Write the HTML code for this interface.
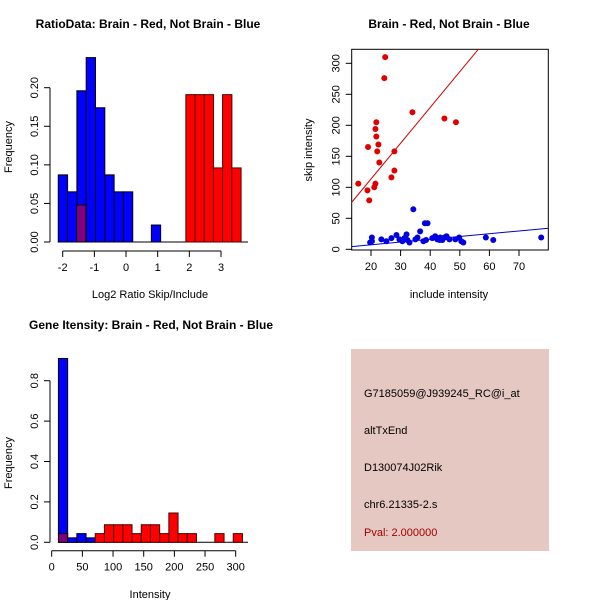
<!DOCTYPE html>
<html><head><meta charset="utf-8"><style>
html,body{margin:0;padding:0;background:#fff}
svg{display:block}
text{font-family:"Liberation Sans",sans-serif;font-size:11px;fill:#000}
.t{font-weight:bold;font-size:12px}
</style></head><body>
<svg id="c" width="600" height="600" xmlns="http://www.w3.org/2000/svg">
<text class="t" x="148" y="28" text-anchor="middle">RatioData: Brain - Red, Not Brain - Blue</text>
<text x="150" y="298" text-anchor="middle">Log2 Ratio Skip/Include</text>
<text x="12" y="147" text-anchor="middle" transform="rotate(-90 12 147)">Frequency</text>
<text class="t" x="449" y="28" text-anchor="middle">Brain - Red, Not Brain - Blue</text>
<text x="449" y="298" text-anchor="middle">include intensity</text>
<text x="312" y="150" text-anchor="middle" transform="rotate(-90 312 150)">skip intensity</text>
<text class="t" x="151" y="329" text-anchor="middle">Gene Itensity: Brain - Red, Not Brain - Blue</text>
<text x="150" y="598" text-anchor="middle">Intensity</text>
<text x="12" y="463" text-anchor="middle" transform="rotate(-90 12 463)">Frequency</text>
<g>
<rect x="351" y="349" width="198" height="202" fill="#e6c8c2"/>
<text x="364" y="397">G7185059@J939245_RC@i_at</text>
<text x="364" y="434">altTxEnd</text>
<text x="364" y="471">D130074J02Rik</text>
<text x="364" y="508">chr6.21335-2.s</text>
<text x="364" y="536" style="fill:#a00000">Pval: 2.000000</text>
</g>
</svg>
<script>
// ---- Ratio histogram data ----
const ratioBinWidth = 0.294;
const ratioBlueStart = -2.14;
const ratioBlue = [0.087,0.065,0.196,0.239,0.174,0.087,0.065,0.065,0,0,0.022];
const ratioRedStarts = [-1.56,1.89,2.18,2.47,2.76,3.05,3.34];
const ratioRed = [0.048,0.191,0.191,0.191,0.096,0.191,0.096];
const ratioXTicks = [-2,-1,0,1,2,3];
const ratioYTicks = [0,0.05,0.10,0.15,0.20];
const ratioYLabels = ["0.00","0.05","0.10","0.15","0.20"];
// ---- Scatter data ----
const redX = [15.7,24.8,24.5,34,44.8,48.7,21.8,21.5,21.8,19,22.5,22.1,27.9,22.8,26.9,27.9,18.8,19.4,21.5,21.1];
const redY = [106,310,276,221,211,205,205,194,182,165,169,158,158,140,116,127,95,79,106,100];
const blueX = [34.3,38.2,39.1,36.6,58.8,61.3,77.5,19.7,20.3,20.3,23.5,25.2,26.9,28.6,29.6,30.6,31.3,32,32.3,33,35,35.7,37.7,38.6,40.7,41.7,42.4,43.4,44.1,44.8,45.5,48.5,49.8,50.5,51.2,43.2,46.5];
const blueY = [64.5,42,42,29,19,15,19,11,13,19,16,13,18,23,16,13,18,24,15,11,16,19,13,15,18,21,16,19,15,19,21,16,19,13,11,15,16];
const redFit = [-2, 5.77];
const blueFit = [-1.7, 0.446];
const scatterXTicks = [20,30,40,50,60,70];
const scatterYTicks = [0,50,100,150,200,250,300];
// ---- Intensity histogram data ----
const intBinWidth = 15;
const intStart = 11;
const intBlue = [0.91,0.022,0.043,0.022];
const intRed = [0.043,0,0,0,0.043,0.087,0.087,0.087,0.043,0.087,0.087,0.043,0.145,0.043,0.043,0,0,0.043,0,0.043];
const intXTicks = [0,50,100,150,200,250,300];
const intYTicks = [0,0.2,0.4,0.6,0.8];
const intYLabels = ["0.0","0.2","0.4","0.6","0.8"];

const svg = document.getElementById('c');
const NS = 'http://www.w3.org/2000/svg';
function mk(tag, attrs, parent){
  const e = document.createElementNS(NS, tag);
  for (const k in attrs) e.setAttribute(k, attrs[k]);
  (parent||svg).appendChild(e);
  return e;
}
function lin(d0,d1,r0,r1){return v => r0 + (v-d0)*(r1-r0)/(d1-d0);}

function axes(g, xs, ys, xTicks, xLabels, yTicks, yLabels, xAxisY, yAxisX, prefix){
  let e;
  e = mk('line',{x1:xs(xTicks[0]),x2:xs(xTicks[xTicks.length-1]),y1:xAxisY,y2:xAxisY,stroke:'#000'},g);
  
  
  xTicks.forEach((t,i)=>{
    mk('line',{x1:xs(t),x2:xs(t),y1:xAxisY,y2:xAxisY+6,stroke:'#000'},g);
    e = mk('text',{x:xs(t),y:xAxisY+20,'text-anchor':'middle'},g);
    e.textContent = xLabels[i];
    
    
  });
  e = mk('line',{x1:yAxisX,x2:yAxisX,y1:ys(yTicks[0]),y2:ys(yTicks[yTicks.length-1]),stroke:'#000'},g);
  
  
  yTicks.forEach((t,i)=>{
    mk('line',{x1:yAxisX-6,x2:yAxisX,y1:ys(t),y2:ys(t),stroke:'#000'},g);
    const lx = yAxisX-12;
    e = mk('text',{x:lx,y:ys(t),'text-anchor':'middle',transform:`rotate(-90 ${lx} ${ys(t)})`},g);
    e.textContent = yLabels[i];
    
    
  });
}

// Ratio histogram
(function(){
  const g = mk('g',{});
  
  
  const xs = lin(-2,3,62.7,221), ys = lin(0,0.2,242,87.7);
  mk('line',{x1:xs(ratioBlueStart),x2:248,y1:ys(0),y2:ys(0),stroke:'#000'},g);
  ratioBlue.forEach((v,i)=>{
    const x0 = xs(ratioBlueStart+i*ratioBinWidth), x1 = xs(ratioBlueStart+(i+1)*ratioBinWidth);
    if (v<=0) return;
    const r = mk('rect',{x:x0,y:ys(v),width:x1-x0,height:ys(0)-ys(v),fill:'#0000ff',stroke:'#000','stroke-width':1},g);
    
    
  });
  ratioRed.forEach((v,i)=>{
    const x0 = xs(ratioRedStarts[i]), x1 = xs(ratioRedStarts[i]+ratioBinWidth);
    const purple = i===0;
    const r = mk('rect',{x:x0,y:ys(v),width:x1-x0,height:ys(0)-ys(v),fill:purple?'#800080':'#ff0000',stroke:purple?'#000':'#500000','stroke-width':1},g);
    
    
  });
  axes(g, xs, ys, ratioXTicks, ratioXTicks.map(String), ratioYTicks, ratioYLabels, 251, 50, 'ratio');
})();

// Scatter
(function(){
  const g = mk('g',{});
  
  
  const xs = lin(20,70,371,519), ys = lin(0,300,249.3,63.3);
  const L=351.7,R=548.3,T=49.3,B=250;
  const cp = mk('clipPath',{id:'sc'},g);
  mk('rect',{x:L,y:T,width:R-L,height:B-T},cp);
  const box = mk('rect',{x:L,y:T,width:R-L,height:B-T,fill:'none',stroke:'#000'},g);
  
  
  const xa = 10, xb = 80;
  let e = mk('line',{x1:xs(xa),y1:ys(redFit[0]+redFit[1]*xa),x2:xs(xb),y2:ys(redFit[0]+redFit[1]*xb),stroke:'#d00000','clip-path':'url(#sc)'},g);
  
  
  e = mk('line',{x1:xs(xa),y1:ys(blueFit[0]+blueFit[1]*xa),x2:xs(xb),y2:ys(blueFit[0]+blueFit[1]*xb),stroke:'#0000c0','clip-path':'url(#sc)'},g);
  
  
  redX.forEach((x,i)=>{
    const c = mk('circle',{cx:xs(x),cy:ys(redY[i]),r:3,fill:'#e00000'},g);
    
    
  });
  blueX.forEach((x,i)=>{
    const c = mk('circle',{cx:xs(x),cy:ys(blueY[i]),r:3,fill:'#0000e0'},g);
    
    
  });
  scatterXTicks.forEach(t=>{
    mk('line',{x1:xs(t),x2:xs(t),y1:B,y2:B+6,stroke:'#000'},g);
    const tx = mk('text',{x:xs(t),y:B+20,'text-anchor':'middle'},g);
    tx.textContent = t;
    
    
  });
  scatterYTicks.forEach(t=>{
    mk('line',{x1:L-6,x2:L,y1:ys(t),y2:ys(t),stroke:'#000'},g);
    const lx = L-12;
    const tx = mk('text',{x:lx,y:ys(t),'text-anchor':'middle',transform:`rotate(-90 ${lx} ${ys(t)})`},g);
    tx.textContent = t;
    
    
  });
})();

// Intensity histogram
(function(){
  const g = mk('g',{});
  
  
  const xs = lin(0,300,51.7,235.7), ys = lin(0,0.8,542.3,380.7);
  mk('line',{x1:xs(intStart),x2:248,y1:ys(0),y2:ys(0),stroke:'#000'},g);
  intBlue.forEach((v,i)=>{
    const x0 = xs(intStart+i*intBinWidth), x1 = xs(intStart+(i+1)*intBinWidth);
    const r = mk('rect',{x:x0,y:ys(v),width:x1-x0,height:ys(0)-ys(v),fill:'#0000ff',stroke:'#000'},g);
    
    
  });
  intRed.forEach((v,i)=>{
    if (v<=0) return;
    const x0 = xs(intStart+i*intBinWidth), x1 = xs(intStart+(i+1)*intBinWidth);
    const purple = i===0;
    const r = mk('rect',{x:x0,y:ys(v),width:x1-x0,height:ys(0)-ys(v),fill:purple?'#800080':'#ff0000',stroke:purple?'#000':'#500000'},g);
    
    
  });
  axes(g, xs, ys, intXTicks, intXTicks.map(String), intYTicks, intYLabels, 550.7, 50, 'intensity');
})();
</script>
</body></html>
